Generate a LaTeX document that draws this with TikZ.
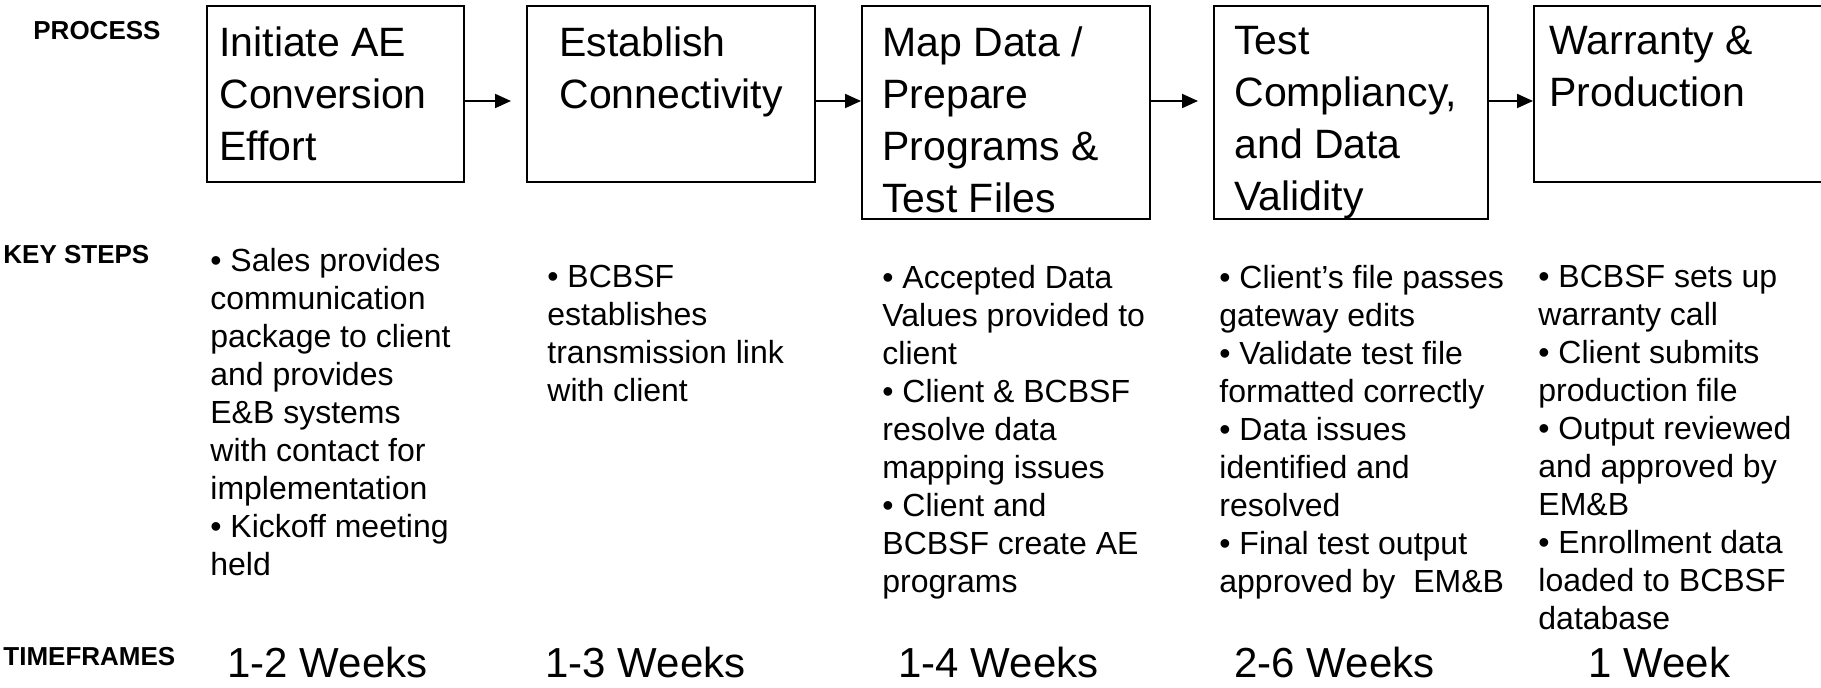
\documentclass[tikz,border=0pt]{standalone}
\usepackage{fontspec}
\setmainfont{Liberation Sans}
\usetikzlibrary{arrows.meta}

\begin{document}
\begin{tikzpicture} [x = 0.5pt, y = -0.5pt,
    stage/.style = {draw, line width = 1pt, anchor = north west, minimum height = 88pt, inner sep = 0pt},
    tall/.style = {minimum height = 106.5pt},
    stagetext/.style = {anchor = north west, align = left, inner sep = 0pt, font = \fontsize{20.5}{26}\selectfont},
    steptext/.style = {anchor = north west, align = left, inner sep = 0pt, font = \fontsize{16}{19}\selectfont},
    rowlabel/.style = {anchor = base west, inner sep = 0pt, font = \fontsize{13}{15}\selectfont\bfseries},
    weeks/.style = {anchor = base west, inner sep = 0pt, font = \fontsize{21}{25}\selectfont},
    flow/.style = {-{Triangle[length = 8pt, width = 7pt]}, line width = 1pt}]

\useasboundingbox (0,0) rectangle (1821,688);

\node (lp) [rowlabel] at (33,40) {PROCESS};
\node (lk) [rowlabel] at (3,264) {KEY STEPS};
\node (lt) [rowlabel] at (3,666) {TIMEFRAMES};

\node (s1) [stage, minimum width = 128.5pt] at (205.5,5) {};
\node (s2) [stage, minimum width = 144pt] at (526,5) {};
\node (s3) [stage, tall, minimum width = 144pt] at (861,5) {};
\node (s4) [stage, tall, minimum width = 137pt] at (1213,5) {};
\node (s5) [stage, minimum width = 148.5pt] at (1533,5) {};

\node (t1) [stagetext] at (219,26) {Initiate AE\\Conversion\\Effort};
\node (t2) [stagetext] at (559,26) {Establish\\Connectivity};
\node (t3) [stagetext] at (882,26) {Map Data /\\Prepare\\Programs \&\\Test Files};
\node (t4) [stagetext] at (1234,26) {Test\\Compliancy,\\and Data\\Validity};
\node (t5) [stagetext] at (1549,26) {Warranty \&\\Production};

\draw [flow, shorten > = 7.5pt] ([yshift = -3.5pt]s1.east) -- ([yshift = -3.5pt]s1.east -| s2.west);
\draw [flow] ([yshift = -3.5pt]s2.east) -- ([yshift = -3.5pt]s2.east -| s3.west);
\draw [flow, shorten > = 7.5pt] ([yshift = 5.75pt]s3.east) -- ([yshift = 5.75pt]s3.east -| s4.west);
\draw [flow] ([yshift = 5.75pt]s4.east) -- ([yshift = 5.75pt]s4.east -| s5.west);

\node (k1) [steptext] at (210,248) {• Sales provides\\communication\\package to client\\and provides\\E\&B systems\\with contact for\\implementation\\• Kickoff meeting\\held};
\node (k2) [steptext] at (547,265) {• BCBSF\\establishes\\transmission link\\with client};
\node (k3) [steptext] at (882,265) {• Accepted Data\\Values provided to\\client\\• Client \& BCBSF\\resolve data\\mapping issues\\• Client and\\BCBSF create AE\\programs};
\node (k4) [steptext] at (1219,265) {• Client’s file passes\\gateway edits\\• Validate test file\\formatted correctly\\• Data issues\\identified and\\resolved\\• Final test output\\approved by\ \ EM\&B};
\node (k5) [steptext] at (1538,265) {• BCBSF sets up\\warranty call\\• Client submits\\production file\\• Output reviewed\\and approved by\\EM\&B\\• Enrollment data\\loaded to BCBSF\\database};

\node (w1) [weeks] at (227,678) {1-2 Weeks};
\node (w2) [weeks] at (545,678) {1-3 Weeks};
\node (w3) [weeks] at (898,678) {1-4 Weeks};
\node (w4) [weeks] at (1234,678) {2-6 Weeks};
\node (w5) [weeks] at (1588,678) {1 Week};
\end{tikzpicture}
\end{document}
